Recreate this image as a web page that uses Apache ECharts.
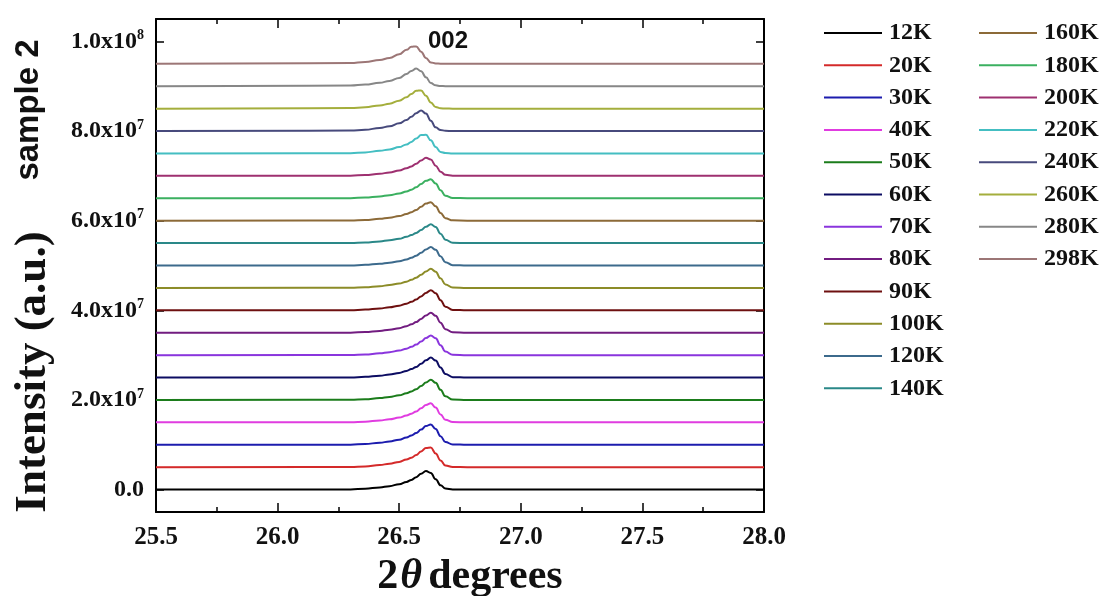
<!DOCTYPE html>
<html>
<head>
<meta charset="utf-8">
<script src="https://cdn.jsdelivr.net/npm/echarts@6/dist/echarts.min.js"></script>
<style>
html,body{margin:0;padding:0;background:#fff;}
#chart{width:1107px;height:596px;}
</style>
</head>
<body>
<div id="chart"></div>
<script>
// ---- data ----
const temps = ['12K','20K','30K','40K','50K','60K','70K','80K','90K','100K','120K','140K','160K','180K','200K','220K','240K','260K','280K','298K'];
const colors = ['#000000','#d42a2a','#1c1cae','#e03ce0','#1b7c1b','#0c0c62','#8a35dd','#721c80','#6e1010','#8c8c28','#3c6a8c','#2a8888','#8c6a38','#3bb060','#9e3070','#44bec2','#474a7c','#a4ae3c','#878787','#9c7676'];
// 2theta sample positions (degrees)
const twoTheta = [25.50, 26.30, 26.36, 26.42, 26.46, 26.50, 26.53, 26.55, 26.57, 26.59, 26.61, 26.63, 26.65, 26.67, 26.69, 26.72, 26.78, 28.00];
// vertical offset of each trace (units of 1e6)
const offsets = [0, 5, 10, 15, 20, 25, 30, 35, 40, 45, 50, 55, 60, 65, 70, 75, 80, 85, 90, 95];
// intensity above each trace's baseline at twoTheta (units of 1e6)
const p12K  = [0, .04, .19, .48, .77, 1.21, 1.72, 2.16, 2.78, 3.53, 4.14, 3.72, 2.33, .95, .25, .04, 0, 0];
const p20K  = [0, .04, .18, .47, .77, 1.18, 1.70, 2.12, 2.70, 3.51, 4.28, 4.37, 3.06, 1.49, .36, .06, 0, 0];
const p30K  = [0, .02, .17, .45, .74, 1.14, 1.62, 2.06, 2.61, 3.38, 4.18, 4.53, 3.52, 1.91, .60, .08, 0, 0];
const p40K  = [0, .02, .16, .42, .69, 1.06, 1.52, 1.92, 2.44, 3.16, 3.90, 4.24, 3.29, 1.78, .56, .07, 0, 0];
const p50K  = [0, .02, .16, .41, .68, 1.04, 1.49, 1.90, 2.41, 3.11, 3.89, 4.50, 3.83, 2.25, .81, .09, 0, 0];
const p60K  = [0, .02, .16, .40, .67, 1.02, 1.47, 1.88, 2.38, 3.07, 3.85, 4.45, 3.78, 2.23, .80, .09, 0, 0];
const p70K  = [0, .02, .15, .40, .66, 1.01, 1.45, 1.86, 2.35, 3.04, 3.81, 4.40, 3.74, 2.20, .79, .09, 0, 0];
const p80K  = [0, .02, .16, .40, .67, 1.02, 1.47, 1.88, 2.38, 3.07, 3.85, 4.45, 3.78, 2.23, .80, .09, 0, 0];
const p90K  = [0, .02, .16, .41, .68, 1.04, 1.49, 1.90, 2.41, 3.11, 3.89, 4.50, 3.83, 2.25, .81, .09, 0, 0];
const p100K = [0, .02, .15, .38, .64, .98, 1.40, 1.80, 2.27, 2.93, 3.68, 4.25, 3.61, 2.13, .77, .09, 0, 0];
const p120K = [0, .02, .14, .37, .62, .94, 1.35, 1.73, 2.19, 2.83, 3.55, 4.10, 3.49, 2.05, .74, .08, 0, 0];
const p140K = [0, .02, .15, .38, .63, .97, 1.39, 1.78, 2.25, 2.90, 3.63, 4.20, 3.57, 2.10, .76, .08, 0, 0];
const p160K = [0, .02, .16, .41, .67, 1.04, 1.48, 1.88, 2.39, 3.09, 3.81, 4.14, 3.21, 1.74, .55, .07, 0, 0];
const p180K = [0, .02, .16, .42, .69, 1.06, 1.52, 1.92, 2.44, 3.16, 3.90, 4.24, 3.29, 1.78, .56, .07, 0, 0];
const p200K = [0, .04, .18, .47, .75, 1.18, 1.68, 2.11, 2.72, 3.44, 4.04, 3.63, 2.27, .92, .24, .04, 0, 0];
const p220K = [0, .07, .23, .58, .90, 1.42, 2.02, 2.58, 3.35, 4.09, 4.17, 2.92, 1.42, .34, .09, 0, 0, 0];
const p240K = [0, .10, .28, .69, 1.06, 1.73, 2.46, 3.17, 3.98, 4.60, 3.91, 2.30, .83, .23, .06, 0, 0, 0];
const p260K = [0, .12, .32, .71, 1.10, 1.78, 2.52, 3.28, 3.99, 4.07, 2.86, 1.39, .34, .08, .03, 0, 0, 0];
const p280K = [0, .14, .36, .75, 1.17, 1.86, 2.73, 3.42, 3.95, 3.36, 1.98, .71, .20, .05, 0, 0, 0, 0];
const p298K = [0, .16, .42, .84, 1.32, 2.14, 3.12, 3.80, 3.88, 2.72, 1.32, .32, .08, .03, 0, 0, 0, 0];
const peaks = [p12K,p20K,p30K,p40K,p50K,p60K,p70K,p80K,p90K,p100K,p120K,p140K,p160K,p180K,p200K,p220K,p240K,p260K,p280K,p298K];
const UNIT = 1e6;
// axis ticks
const yTicks = [0, 2e7, 4e7, 6e7, 8e7, 1e8];
const yTickMant = ['0.0', '2.0x10', '4.0x10', '6.0x10', '8.0x10', '1.0x10'];
const yTickExp = ['', '7', '7', '7', '7', '8'];

// ---- chart ----
const SERIF = '"Liberation Serif", "Times New Roman", serif';
const SANS = '"Liberation Sans", Arial, sans-serif';
const chart = echarts.init(document.getElementById('chart'));

const series = temps.map((t, i) => ({
  name: t,
  type: 'line',
  xAxisIndex: 0,
  yAxisIndex: 0,
  symbol: 'none',
  showSymbol: false,
  smooth: 0.45,
  smoothMonotone: 'x',
  lineStyle: { width: 2, color: colors[i] },
  itemStyle: { color: colors[i] },
  data: twoTheta.map((x, k) => [x, (offsets[i] + peaks[i][k]) * UNIT])
}));

const legendText = { fontFamily: SERIF, fontWeight: 'bold', fontSize: 24, lineHeight: 22, color: '#111', padding: [0, 0, 0, 2] };
const legendBase = { orient: 'vertical', top: 21, padding: 0, icon: 'rect', itemWidth: 58, itemHeight: 2, itemGap: 8.3, textStyle: legendText, selectedMode: false };

const tickLine = { lineStyle: { color: '#000', width: 1.5 } };

chart.setOption({
  animation: false,
  backgroundColor: '#fff',
  grid: { left: 156, right: 343, top: 19, bottom: 84, containLabel: false },
  legend: [
    Object.assign({ left: 824, data: temps.slice(0, 12) }, legendBase),
    Object.assign({ left: 979, data: temps.slice(12) }, legendBase)
  ],
  xAxis: [
    {
      type: 'value', position: 'bottom', min: 25.5, max: 28.0, interval: 0.5,
      axisLine: { show: true, onZero: false, lineStyle: { color: '#000', width: 2 } },
      axisTick: Object.assign({ show: true, inside: true, length: 9 }, tickLine),
      minorTick: { show: true, splitNumber: 2, length: 5, lineStyle: { color: '#000', width: 1.5 } },
      splitLine: { show: false },
      axisLabel: { margin: 13, fontFamily: SERIF, fontWeight: 'bold', fontSize: 25, color: '#111', formatter: v => v.toFixed(1) }
    },
    {
      type: 'value', position: 'top', min: 25.5, max: 28.0, interval: 0.5,
      axisLine: { show: true, onZero: false, lineStyle: { color: '#000', width: 2 } },
      axisTick: Object.assign({ show: true, inside: true, length: 9 }, tickLine),
      minorTick: { show: true, splitNumber: 2, length: 5, lineStyle: { color: '#000', width: 1.5 } },
      splitLine: { show: false },
      axisLabel: { show: false }
    }
  ],
  yAxis: [
    {
      type: 'value', position: 'left', min: -5e6, max: 1.05e8,
      axisLine: { show: true, onZero: false, lineStyle: { color: '#000', width: 2 } },
      axisTick: Object.assign({ show: true, inside: true, length: 8, customValues: yTicks }, tickLine),
      splitLine: { show: false },
      axisLabel: {
        margin: 12, customValues: yTicks,
        formatter: v => {
          const i = yTicks.indexOf(v);
          if (i < 0) return '';
          return yTickExp[i] ? '{m|' + yTickMant[i] + '}{s|' + yTickExp[i] + '}' : '{m|' + yTickMant[i] + '}';
        },
        rich: {
          m: { fontFamily: SERIF, fontWeight: 'bold', fontSize: 24, lineHeight: 26, color: '#111' },
          s: { fontFamily: SERIF, fontWeight: 'bold', fontSize: 14, lineHeight: 14, verticalAlign: 'top', color: '#111' }
        }
      }
    },
    {
      type: 'value', position: 'right', min: -5e6, max: 1.05e8,
      axisLine: { show: true, onZero: false, lineStyle: { color: '#000', width: 2 } },
      axisTick: Object.assign({ show: true, inside: true, length: 8, customValues: yTicks }, tickLine),
      splitLine: { show: false },
      axisLabel: { show: false }
    }
  ],
  graphic: [
    { type: 'text', x: 33, y: 372, rotation: Math.PI / 2, silent: true,
      style: { text: 'Intensity (a.u.)', font: 'bold 45px ' + SERIF, fill: '#111', align: 'center', verticalAlign: 'middle' } },
    { type: 'text', x: 29, y: 110, rotation: Math.PI / 2, silent: true,
      style: { text: 'sample 2', font: 'bold 33px ' + SANS, fill: '#111', align: 'center', verticalAlign: 'middle' } },
    { type: 'text', x: 448, y: 41, silent: true,
      style: { text: '002', font: 'bold 24px ' + SANS, fill: '#111', align: 'center', verticalAlign: 'middle' } },
    { type: 'text', x: 470, y: 577, silent: true,
      style: {
        text: '{n|2}{t|θ}{n|degrees}', align: 'center', verticalAlign: 'middle',
        rich: {
          n: { fontFamily: SERIF, fontWeight: 'bold', fontSize: 42, fill: '#111', color: '#111' },
          t: { fontFamily: SERIF, fontWeight: 'bold', fontStyle: 'italic', fontSize: 42, fill: '#111', color: '#111', padding: [0, 6, 0, 2] }
        }
      } }
  ],
  series: series
});
</script>
</body>
</html>
